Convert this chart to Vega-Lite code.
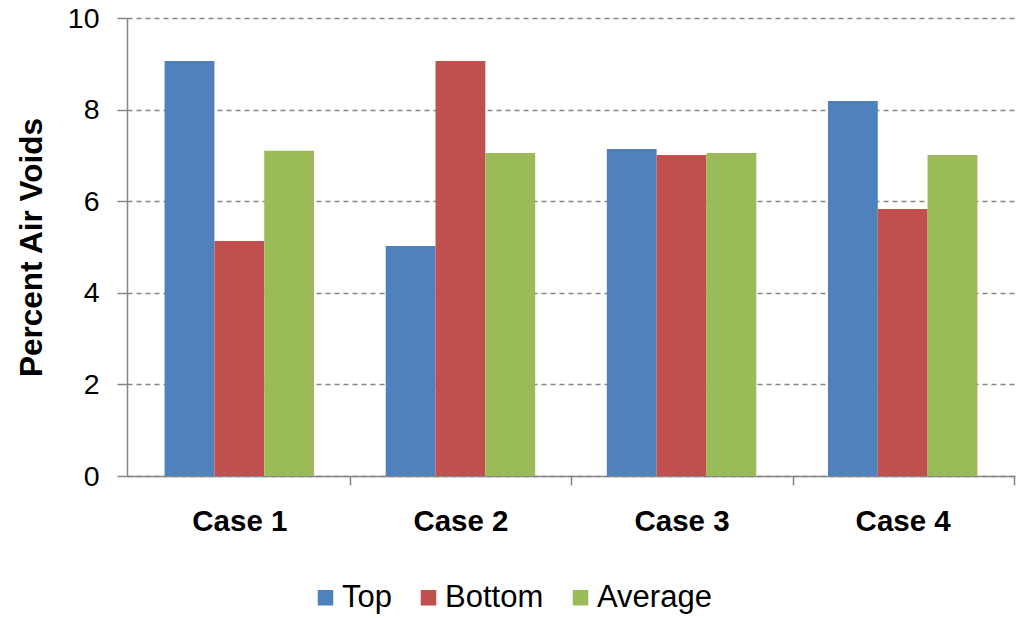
{
  "$schema": "https://vega.github.io/schema/vega-lite/v6.json",
  "width": 888,
  "height": 458,
  "autosize": {"type": "none"},
  "padding": {"left": 127, "top": 18, "right": 2, "bottom": 142},
  "background": "white",
  "config": {
    "view": {"stroke": null},
    "font": "Liberation Sans"
  },
  "data": {
    "values": [
      {"case": "Case 1", "series": "Top", "value": 9.06},
      {"case": "Case 1", "series": "Bottom", "value": 5.13},
      {"case": "Case 1", "series": "Average", "value": 7.10},
      {"case": "Case 2", "series": "Top", "value": 5.02},
      {"case": "Case 2", "series": "Bottom", "value": 9.06},
      {"case": "Case 2", "series": "Average", "value": 7.05},
      {"case": "Case 3", "series": "Top", "value": 7.14},
      {"case": "Case 3", "series": "Bottom", "value": 7.01},
      {"case": "Case 3", "series": "Average", "value": 7.05},
      {"case": "Case 4", "series": "Top", "value": 8.19},
      {"case": "Case 4", "series": "Bottom", "value": 5.83},
      {"case": "Case 4", "series": "Average", "value": 7.01}
    ]
  },
  "mark": {"type": "bar"},
  "encoding": {
    "x": {
      "field": "case",
      "type": "nominal",
      "sort": ["Case 1", "Case 2", "Case 3", "Case 4"],
      "scale": {"paddingInner": 0.324, "paddingOuter": 0.17},
      "axis": {
        "title": null,
        "labelAngle": 0,
        "labelFont": "Liberation Sans",
        "labelFontSize": 29.5,
        "labelFontWeight": "bold",
        "labelColor": "#000000",
        "labelPadding": 22,
        "tickOffset": 111,
        "labelOffset": -111,
        "tickSize": 9,
        "tickColor": "#868686",
        "tickWidth": 1.5,
        "domainColor": "#868686",
        "domainWidth": 1.5
      }
    },
    "xOffset": {
      "field": "series",
      "type": "nominal",
      "sort": ["Top", "Bottom", "Average"],
      "scale": {"paddingInner": 0, "paddingOuter": 0}
    },
    "y": {
      "field": "value",
      "type": "quantitative",
      "scale": {"domain": [0, 10], "nice": false},
      "axis": {
        "title": "Percent Air Voids",
        "titleFont": "Liberation Sans",
        "titleFontSize": 31.5,
        "titleFontWeight": "bold",
        "titleColor": "#000000",
        "titlePadding": 19,
        "values": [0, 2, 4, 6, 8, 10],
        "labelFont": "Liberation Sans",
        "labelFontSize": 28.5,
        "labelColor": "#000000",
        "labelPadding": 18,
        "tickSize": 10,
        "tickColor": "#868686",
        "tickWidth": 1.5,
        "domainColor": "#868686",
        "domainWidth": 1.5,
        "grid": true,
        "gridColor": "#868686",
        "gridWidth": 1.5,
        "gridDash": [5, 4]
      }
    },
    "color": {
      "field": "series",
      "type": "nominal",
      "sort": ["Top", "Bottom", "Average"],
      "scale": {
        "domain": ["Top", "Bottom", "Average"],
        "range": ["#4F81BD", "#C0504D", "#9BBB59"]
      },
      "legend": {
        "title": null,
        "orient": "none",
        "direction": "horizontal",
        "legendX": 183,
        "legendY": 564,
        "symbolType": "square",
        "symbolSize": 240,
        "symbolStrokeWidth": 0,
        "labelFont": "Liberation Sans",
        "labelFontSize": 31,
        "labelColor": "#000000",
        "labelOffset": 1,
        "columnPadding": 21
      }
    }
  }
}
